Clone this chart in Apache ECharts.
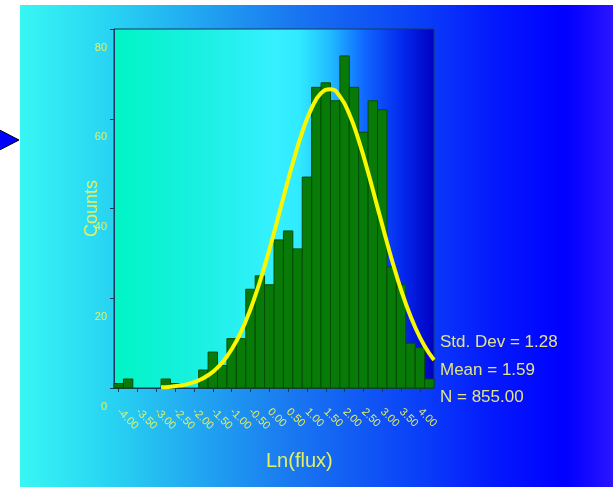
<!DOCTYPE html>
<html>
<head>
<meta charset="utf-8">
<script src="https://cdn.jsdelivr.net/npm/echarts@6.0.0/dist/echarts.min.js"></script>
<style>
  html, body { margin: 0; padding: 0; background: #fff; }
  #chart { width: 613px; height: 487px; }
</style>
</head>
<body>
<div id="chart"></div>
<script>
// histogram bins (centre of each 0.25 wide bin) and counts
const binCenters = [
  -4.0, -3.75, -3.5, -3.25, -3.0, -2.75, -2.5, -2.25, -2.0, -1.75, -1.5, -1.25,
  -1.0, -0.75, -0.5, -0.25, 0.0, 0.25, 0.5, 0.75, 1.0, 1.25, 1.5, 1.75,
  2.0, 2.25, 2.5, 2.75, 3.0, 3.25, 3.5, 3.75, 4.0, 4.25
];
const counts = [
  1, 2, 0, 0, 0, 2, 1, 0, 0, 4, 8, 5,
  11, 11, 22, 25, 23, 33, 35, 31, 47, 67, 68, 64,
  74, 67, 57, 64, 62, 27, 23, 10, 9, 2
];
const binWidth = 0.25;

// fitted normal curve
const curveX = [
  -2.875, -2.625, -2.375, -2.125, -1.875, -1.625, -1.375, -1.125, -0.875, -0.625,
  -0.375, -0.125, 0.125, 0.375, 0.625, 0.875, 1.125, 1.375, 1.625, 1.875,
  2.125, 2.375, 2.625, 2.875, 3.125, 3.375, 3.625, 3.875, 4.125, 4.375
];
const curveY = [
  0.15, 0.29, 0.55, 0.99, 1.71, 2.84, 4.55, 7.03, 10.43, 14.91,
  20.51, 27.15, 34.61, 42.46, 50.14, 57.0, 62.36, 65.69, 66.6, 64.99,
  61.04, 55.2, 48.05, 40.25, 32.46, 25.19, 18.83, 13.54, 9.37, 6.25
];

const xTicks = [-4, -3.5, -3, -2.5, -2, -1.5, -1, -0.5, 0, 0.5, 1, 1.5, 2, 2.5, 3, 3.5, 4];
const stats = ["Std. Dev = 1.28", "Mean = 1.59", "N = 855.00"];

const FONT = "Liberation Sans, Arial, sans-serif";
const LABEL = "#e4f060";
const DARK = "#173a5c";

const chart = echarts.init(document.getElementById("chart"));

const option = {
  animation: false,
  textStyle: { fontFamily: FONT },
  graphic: [
    {
      type: "rect",
      z: -10,
      shape: { x: 20, y: 5, width: 593, height: 482 },
      style: {
        fill: new echarts.graphic.LinearGradient(0, 0, 1, 0, [
          { offset: 0, color: "#38f6f4" },
          { offset: 0.15, color: "#28d4f2" },
          { offset: 0.45, color: "#1a7af0" },
          { offset: 0.67, color: "#0a40f8" },
          { offset: 0.8, color: "#0418fc" },
          { offset: 0.92, color: "#0000ff" },
          { offset: 1, color: "#2a14ff" },
        ]),
      },
    },
    {
      type: "polygon",
      shape: { points: [[-12, 124], [19, 140], [-12, 156]] },
      style: { fill: "#0000ff", stroke: "#000", lineWidth: 1 },
    },
    {
      type: "text",
      left: 266,
      top: 451,
      style: { text: "Ln(flux)", fill: LABEL, font: "20px " + FONT },
    },
    ...stats.map((s, i) => ({
      type: "text",
      left: 440,
      top: 334 + i * 27.5,
      style: { text: s, fill: "#e2e48a", font: "17px " + FONT },
    })),
  ],
  grid: {
    left: 114,
    top: 29,
    right: 179,
    bottom: 99,
    show: true,
    borderColor: DARK,
    borderWidth: 1,
    backgroundColor: new echarts.graphic.LinearGradient(0, 0, 1, 0, [
      { offset: 0, color: "#00f5c5" },
      { offset: 0.25, color: "#18f0e0" },
      { offset: 0.5, color: "#35f0ff" },
      { offset: 0.58, color: "#30eaff" },
      { offset: 0.68, color: "#20b8ff" },
      { offset: 0.78, color: "#1068ff" },
      { offset: 0.9, color: "#0428ee" },
      { offset: 1, color: "#0000c0" },
    ]),
  },
  xAxis: {
    type: "value",
    min: -4.125,
    max: 4.375,
    splitLine: { show: false },
    axisLine: { onZero: false, lineStyle: { color: DARK } },
    axisTick: { customValues: xTicks, length: 4, lineStyle: { color: DARK } },
    axisLabel: {
      customValues: xTicks,
      rotate: -45,
      margin: 22,
      color: LABEL,
      fontSize: 11,
      formatter: (v) => v.toFixed(2),
    },
  },
  yAxis: {
    type: "value",
    min: 0,
    max: 80,
    interval: 20,
    name: "Counts",
    nameLocation: "middle",
    nameGap: 13,
    nameMoveOverlap: false,
    nameTextStyle: { color: LABEL, fontSize: 18 },
    splitLine: { show: false },
    axisLine: { show: true, onZero: false, lineStyle: { color: DARK } },
    axisTick: { show: true, length: 4, lineStyle: { color: DARK } },
    axisLabel: {
      color: LABEL,
      fontSize: 11,
      margin: 7,
      verticalAlign: "top",
      padding: [13, 0, 0, 0],
    },
  },
  series: [
    {
      type: "custom",
      data: binCenters.map((x, i) => [x, counts[i]]),
      renderItem: (params, api) => {
        const x = api.value(0);
        const c = api.value(1);
        if (!c) return null;
        const p0 = api.coord([x - binWidth / 2, c]);
        const p1 = api.coord([x + binWidth / 2, 0]);
        return {
          type: "rect",
          shape: { x: p0[0], y: p0[1], width: p1[0] - p0[0], height: p1[1] - p0[1] },
          style: { fill: "#087a08", stroke: "#044c04", lineWidth: 1 },
        };
      },
    },
    {
      type: "line",
      smooth: true,
      showSymbol: false,
      data: curveX.map((x, i) => [x, curveY[i]]),
      lineStyle: { color: "#f8f800", width: 4 },
      z: 5,
    },
  ],
};

chart.setOption(option);
</script>
</body>
</html>
